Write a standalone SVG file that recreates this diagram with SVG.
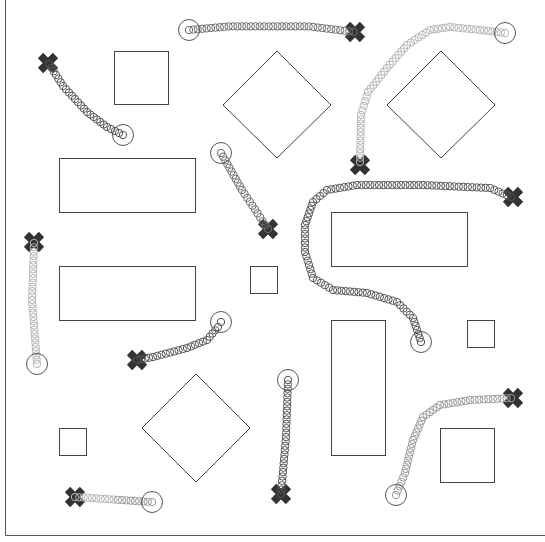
<svg xmlns="http://www.w3.org/2000/svg" xmlns:xlink="http://www.w3.org/1999/xlink" width="545" height="542" viewBox="0 0 545 542">
<style>
.ob{fill:none;stroke:#444;stroke-width:1}
.ring{fill:none;stroke:#555;stroke-width:1}
.ch{fill:none;stroke:none}
.cd{marker:url(#md)}
.cm{marker:url(#mm)}
.cl{marker:url(#ml)}
.cg{marker:url(#mg)}
</style>
<defs>
<marker id="md" markerUnits="userSpaceOnUse" markerWidth="10" markerHeight="10" viewBox="0 0 10 10" refX="5" refY="5" overflow="visible"><circle cx="5" cy="5" r="3.7" fill="none" stroke="#555" stroke-width="1"/></marker>
<marker id="mm" markerUnits="userSpaceOnUse" markerWidth="10" markerHeight="10" viewBox="0 0 10 10" refX="5" refY="5" overflow="visible"><circle cx="5" cy="5" r="3.7" fill="none" stroke="#6e6e6e" stroke-width="1"/></marker>
<marker id="mg" markerUnits="userSpaceOnUse" markerWidth="10" markerHeight="10" viewBox="0 0 10 10" refX="5" refY="5" overflow="visible"><circle cx="5" cy="5" r="3.7" fill="none" stroke="#999" stroke-width="1"/></marker>
<marker id="ml" markerUnits="userSpaceOnUse" markerWidth="10" markerHeight="10" viewBox="0 0 10 10" refX="5" refY="5" overflow="visible"><circle cx="5" cy="5" r="3.7" fill="none" stroke="#b4b4b4" stroke-width="1"/></marker>
<g id="xm"><path d="M-7.5 -7.5L7.5 7.5M7.5 -7.5L-7.5 7.5" stroke="#333" stroke-width="7.5" stroke-linecap="butt"/></g>
</defs>
<rect width="545" height="542" fill="#fff"/>
<path d="M5.5 0V535.5H545" fill="none" stroke="#555" stroke-width="1"/>
<g id="obstacles">
<rect class="ob" x="114.5" y="51.5" width="54" height="53"/>
<polygon class="ob" points="277,51 331,105 277,158 223,105"/>
<polygon class="ob" points="441,51 495,105 441,158 387,105"/>
<rect class="ob" x="59.5" y="158.5" width="136" height="54"/>
<rect class="ob" x="331.5" y="212.5" width="136" height="54"/>
<rect class="ob" x="59.5" y="266.5" width="136" height="54"/>
<rect class="ob" x="250.5" y="266.5" width="27" height="27"/>
<rect class="ob" x="467.5" y="320.5" width="27" height="27"/>
<rect class="ob" x="331.5" y="320.5" width="54" height="135"/>
<polygon class="ob" points="196,374 250,428 196,482 142,428"/>
<rect class="ob" x="59.5" y="428.5" width="27" height="27"/>
<rect class="ob" x="440.5" y="428.5" width="54" height="54"/>
</g>
<g id="goals">
<use href="#xm" x="355" y="32"/>
<use href="#xm" x="48" y="63"/>
<use href="#xm" x="360" y="165"/>
<use href="#xm" x="268" y="229"/>
<use href="#xm" x="513" y="197"/>
<use href="#xm" x="34" y="242"/>
<use href="#xm" x="137" y="360"/>
<use href="#xm" x="281" y="494"/>
<use href="#xm" x="513" y="398"/>
<use href="#xm" x="75" y="497"/>
</g>
<g id="connectors">
<path id="p1" class="ch cm" d="M189 30l4.4 -.4 4.4 -.4 4.4 -.4 4.4 -.4 4.4 -.4 4.4 -.4 4.4 -.4 4.4 -.4 4.4 -.4 4.45 0 4.45 0 4.45 0 4.45 0 4.45 0 4.45 0 4.45 0 4.45 0 4.45 0 4.45 0 4.45 0 4.45 0 4.45 0 4.45 0 4.45 0 4.45 0 4.45 0 4.45 0 4.5 .55 4.5 .55 4.5 .55 4.5 .55 4.5 .55 4.5 .55 4.5 .55 4.5 .55 4.5 .55 4.5 .55"/>
<path id="p2" class="ch cd" d="M123 135l-4 -2 -4 -2 -4 -2 -4 -2 -3.33 -2.5 -3.33 -2.5 -3.33 -2.5 -3.33 -2.5 -3.33 -2.5 -3.33 -2.5 -3 -3.25 -3 -3.25 -3 -3.25 -3 -3.25 -3 -3.25 -3 -3.25 -3 -3.25 -3 -3.25 -2.33 -3.67 -2.33 -3.67 -2.33 -3.67 -2.33 -3.67 -2.33 -3.67 -2.33 -3.67"/>
<path id="p3" class="ch cl" d="M505 33l-4.17 -.5 -4.17 -.5 -4.17 -.5 -4.17 -.5 -4.17 -.5 -4.17 -.5 -4.29 -.43 -4.29 -.43 -4.29 -.43 -4.29 -.43 -4.29 -.43 -4.29 -.43 -4.29 -.43 -4 .6 -4 .6 -4 .6 -4 .6 -4 .6 -3.83 2.5 -3.83 2.5 -3.83 2.5 -3.83 2.5 -3.83 2.5 -3.83 2.5 -2.86 3.29 -2.86 3.29 -2.86 3.29 -2.86 3.29 -2.86 3.29 -2.86 3.29 -2.86 3.29 -2.71 3.43 -2.71 3.43 -2.71 3.43 -2.71 3.43 -2.71 3.43 -2.71 3.43 -2.71 3.43 -1.4 4.6 -1.4 4.6 -1.4 4.6 -1.4 4.6 -1.4 4.6 -.09 4.27 -.09 4.27 -.09 4.27 -.09 4.27 -.09 4.27 -.09 4.27 -.09 4.27 -.09 4.27 -.09 4.27 -.09 4.27 -.09 4.27"/>
<path id="p4" class="ch cm" d="M221 153l2.1 3.7 2.1 3.7 2.1 3.7 2.1 3.7 2.1 3.7 2.1 3.7 2.1 3.7 2.1 3.7 2.1 3.7 2.1 3.7 2.6 3.9 2.6 3.9 2.6 3.9 2.6 3.9 2.6 3.9 2.6 3.9 2.6 3.9 2.6 3.9 2.6 3.9 2.6 3.9"/>
<path id="p5" class="ch cd" d="M421 342l-1.33 -4 -1.33 -4 -1.33 -4 -1.33 -4 -1.33 -4 -1.33 -4 -3.2 -3.2 -3.2 -3.2 -3.2 -3.2 -3.2 -3.2 -3.2 -3.2 -4.29 -1.29 -4.29 -1.29 -4.29 -1.29 -4.29 -1.29 -4.29 -1.29 -4.29 -1.29 -4.29 -1.29 -4.25 -.375 -4.25 -.375 -4.25 -.375 -4.25 -.375 -4.25 -.375 -4.25 -.375 -4.25 -.375 -4.25 -.375 -4 -2.4 -4 -2.4 -4 -2.4 -4 -2.4 -4 -2.4 -1.33 -4.33 -1.33 -4.33 -1.33 -4.33 -1.33 -4.33 -1.33 -4.33 -1.33 -4.33 0 -4.5 0 -4.5 0 -4.5 0 -4.5 0 -4.5 0 -4.5 1.33 -3.83 1.33 -3.83 1.33 -3.83 1.33 -3.83 1.33 -3.83 1.33 -3.83 3.5 -3 3.5 -3 3.5 -3 3.5 -3 4.29 -.71 4.29 -.71 4.29 -.71 4.29 -.71 4.29 -.71 4.29 -.71 4.29 -.71 4.4 0 4.4 0 4.4 0 4.4 0 4.4 0 4.4 0 4.4 0 4.4 0 4.4 0 4.4 0 4.4 0 4.4 0 4.4 0 4.4 0 4.4 0 4.47 .2 4.47 .2 4.47 .2 4.47 .2 4.47 .2 4.47 .2 4.47 .2 4.47 .2 4.47 .2 4.47 .2 4.47 .2 4.47 .2 4.47 .2 4.47 .2 4.47 .2 4.2 1.8 4.2 1.8 4.2 1.8 4.2 1.8 4.2 1.8"/>
<path id="p6" class="ch cl" d="M34 243l-.15 4.38 -.15 4.38 -.15 4.38 -.15 4.38 -.15 4.38 -.15 4.38 -.15 4.38 -.15 4.38 -.15 4.38 -.15 4.38 -.15 4.38 -.15 4.38 -.15 4.38 .33 4.27 .33 4.27 .33 4.27 .33 4.27 .33 4.27 .33 4.27 .33 4.27 .33 4.27 .33 4.27 .33 4.27 .33 4.27 .33 4.27 .33 4.27 .33 4.27 .33 4.27"/>
<path id="p7" class="ch cd" d="M137 360l4 -.75 4 -.75 4 -.75 4 -.75 4.25 -1.125 4.25 -1.125 4.25 -1.125 4.25 -1.125 4.25 -1.125 4.25 -1.125 4.25 -1.125 4.25 -1.125 4 -1.6 4 -1.6 4 -1.6 4 -1.6 4 -1.6 2.75 -3.25 2.75 -3.25 2.75 -3.25 2.75 -3.25 3 -5"/>
<path id="p8" class="ch cd" d="M288 380l-.154 4.385 -.154 4.385 -.154 4.385 -.154 4.385 -.154 4.385 -.154 4.385 -.154 4.385 -.154 4.385 -.154 4.385 -.154 4.385 -.154 4.385 -.154 4.385 -.154 4.385 -.385 4.385 -.385 4.385 -.385 4.385 -.385 4.385 -.385 4.385 -.385 4.385 -.385 4.385 -.385 4.385 -.385 4.385 -.385 4.385 -.385 4.385 -.385 4.385 -.385 4.385"/>
<path id="p9" class="ch cg" d="M396 495l1.8 -4.4 1.8 -4.4 1.8 -4.4 1.8 -4.4 1.8 -4.4 1 -4.125 1 -4.125 1 -4.125 1 -4.125 1 -4.125 1 -4.125 1 -4.125 1 -4.125 1.67 -3.83 1.67 -3.83 1.67 -3.83 1.67 -3.83 1.67 -3.83 1.67 -3.83 3.4 -2.4 3.4 -2.4 3.4 -2.4 3.4 -2.4 3.4 -2.4 4.29 -.71 4.29 -.71 4.29 -.71 4.29 -.71 4.29 -.71 4.29 -.71 4.29 -.71 4.56 -.22 4.56 -.22 4.56 -.22 4.56 -.22 4.56 -.22 4.56 -.22 4.56 -.22 4.56 -.22 4.56 -.22"/>
<path id="p10a" class="ch cl" d="M75 497l4.28 .28 4.28 .28 4.28 .28 4.28 .28 4.28 .28 4.28 .28 4.28 .28 4.28 .28 4.28 .28"/>
<path id="p10b" class="ch cg" d="M117.8 499.8l4.28 .28 4.28 .28 4.28 .28 4.28 .28 4.28 .28 4.28 .28 4.28 .28 4.28 .28"/>
</g>
<g id="starts">
<circle class="ring" cx="189" cy="30" r="10.5"/>
<circle class="ring" cx="123" cy="135" r="10.5"/>
<circle class="ring" cx="505" cy="33" r="10.5"/>
<circle class="ring" cx="221" cy="153" r="10.5"/>
<circle class="ring" cx="421" cy="342" r="10.5"/>
<circle class="ring" cx="37" cy="364" r="10.5"/>
<circle class="ring" cx="221" cy="322" r="10.5"/>
<circle class="ring" cx="288" cy="380" r="10.5"/>
<circle class="ring" cx="396" cy="495" r="10.5"/>
<circle class="ring" cx="152" cy="502" r="10.5"/>
</g>
</svg>
